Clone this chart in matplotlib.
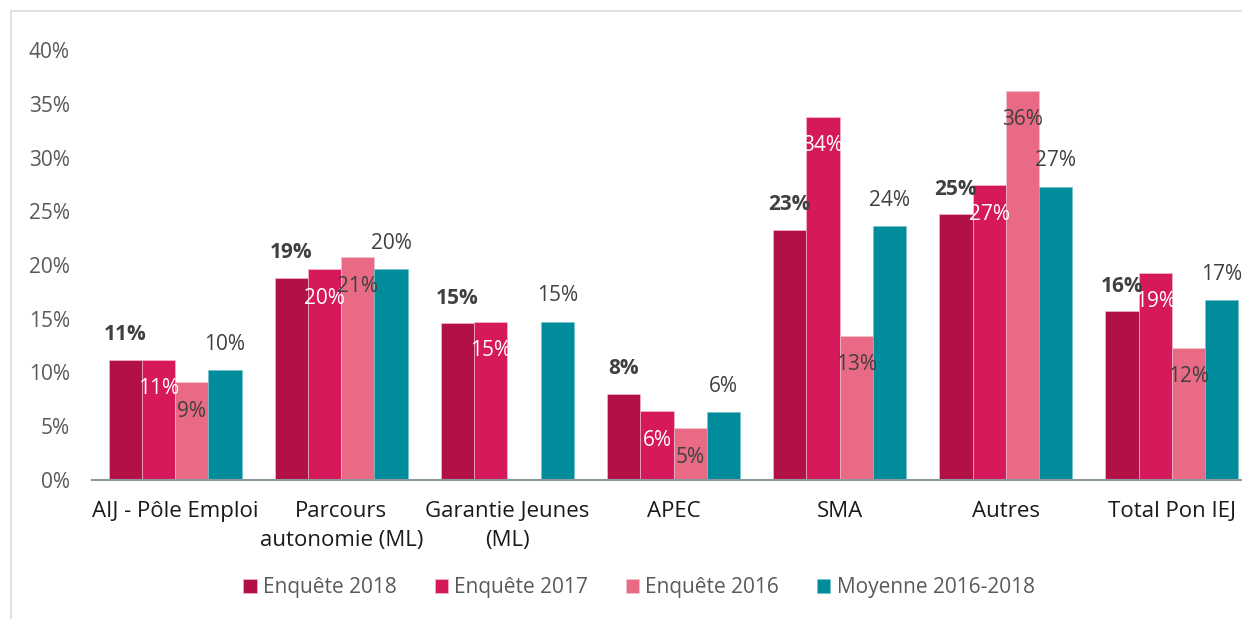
import numpy as np
import matplotlib
matplotlib.use("Agg")
from matplotlib import pyplot as plt
from matplotlib.patches import Rectangle

#   Data
categories = ["AIJ - Pôle Emploi", "Parcours\nautonomie (ML)", "Garantie Jeunes\n(ML)",
              "APEC", "SMA", "Autres", "Total Pon IEJ"]
enq_2018 = [0.112, 0.188, 0.146, 0.080, 0.233, 0.247, 0.157]
enq_2017 = [0.112, 0.196, 0.147, 0.064, 0.338, 0.274, 0.193]
enq_2016 = [0.091, 0.207, np.nan, 0.048, 0.134, 0.362, 0.123]
moyenne = [0.102, 0.196, 0.147, 0.063, 0.236, 0.273, 0.167]
series_names = ["Enquête 2018", "Enquête 2017", "Enquête 2016", "Moyenne 2016-2018"]
yticks = [0, 0.05, 0.10, 0.15, 0.20, 0.25, 0.30, 0.35, 0.40]

colors = ["#B21146", "#D6195A", "#E86A84", "#008C9B"]
label_color = "#404040"

plt.rcParams['font.family'] = ['Open Sans', 'DejaVu Sans']

fig = plt.figure(figsize=(12.42, 6.19), dpi=100)
fig.patches.append(Rectangle((11 / 1242, -0.1), 1.2, 1 - 11 / 619 + 0.1,
                             transform=fig.transFigure, fill=False,
                             edgecolor="#d9d9d9", linewidth=1.2))
ax = fig.add_axes([92 / 1242, 1 - 480 / 619, 1163 / 1242, 430 / 619])

x = np.arange(len(categories))
w = 0.2
all_series = [enq_2018, enq_2017, enq_2016, moyenne]
for k, (vals, col, name) in enumerate(zip(all_series, colors, series_names)):
    pos = x + (k - 1.5) * w
    v = np.array(vals, dtype=float)
    ax.bar(pos, np.nan_to_num(v), width=w, color=col, label=name,
           edgecolor="#f3c6d3" if k < 3 else "#6fc3cc", linewidth=0.4)
    for p, val in zip(pos, v):
        if np.isnan(val):
            continue
        txt = "{:.0f}%".format(val * 100)
        if k == 0:
            ax.annotate(txt, (p, val), xytext=(0, 25), textcoords="offset pixels",
                        ha="center", va="center", fontsize=15, fontweight="bold",
                        color=label_color)
        elif k == 1:
            ax.annotate(txt, (p, val), xytext=(0, -29), textcoords="offset pixels",
                        ha="center", va="center", fontsize=15, color="white")
        elif k == 2:
            ax.annotate(txt, (p, val), xytext=(0, -29), textcoords="offset pixels",
                        ha="center", va="center", fontsize=15, color=label_color)
        else:
            ax.annotate(txt, (p, val), xytext=(0, 26), textcoords="offset pixels",
                        ha="center", va="center", fontsize=15, color=label_color)

ax.set_xlim(-0.5, len(categories) - 0.5)
ax.set_ylim(0, 0.40)
ax.set_yticks(yticks)
ax.set_yticklabels(["{:.0f}%".format(t * 100) for t in yticks], fontsize=15, color="#595959")
ax.set_xticks(x)
ax.set_xticklabels(categories, fontsize=16, color="#1a1a1a", linespacing=1.5)
ax.tick_params(axis="both", length=0)
ax.tick_params(axis="y", pad=16)
ax.tick_params(axis="x", pad=15)
for s in ["top", "right", "left"]:
    ax.spines[s].set_visible(False)
ax.spines["bottom"].set_color("#8c9aa0")
ax.spines["bottom"].set_linewidth(1.5)

fig.legend(loc="center", bbox_to_anchor=(639 / 1242, 1 - 588 / 619), ncol=4,
           frameon=False, fontsize=15, handlelength=0.65, handleheight=0.65,
           handletextpad=0.3, columnspacing=1.8, labelcolor="#595959")

fig.savefig("out.png", dpi=100)
